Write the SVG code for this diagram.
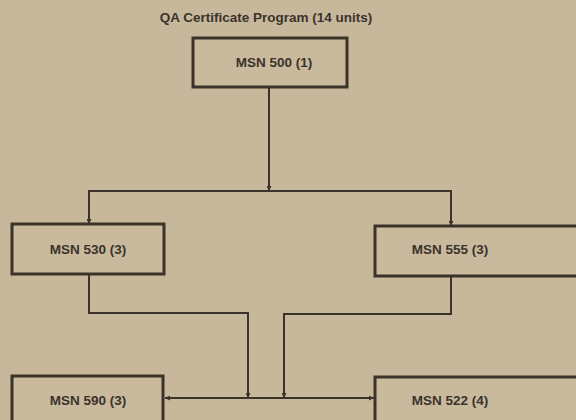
<svg xmlns="http://www.w3.org/2000/svg" width="576" height="420" viewBox="0 0 576 420">
<style>
.bg{fill:#c8b89b}
.box{fill:#c9b99d;stroke:#3b3329;stroke-width:3}
.lbl{font-family:"Liberation Sans",Arial,sans-serif;font-weight:bold;font-size:13.5px;fill:#3a332b;text-anchor:middle}
.ttl{font-family:"Liberation Sans",Arial,sans-serif;font-weight:bold;font-size:13.5px;fill:#3a332b;text-anchor:middle}
.con{fill:none;stroke:#3b3329;stroke-width:2}
</style>
<defs>
<marker id="ah" viewBox="0 0 6 6" refX="6" refY="3" markerWidth="2.5" markerHeight="2.5" orient="auto" markerUnits="strokeWidth">
<path d="M0,0 L6,3 L0,6 z" fill="#3b3329"/>
</marker>
</defs>
<rect class="bg" x="0" y="0" width="576" height="420"/>
<text class="ttl" x="266" y="22">QA Certificate Program (14 units)</text>
<g id="connectors">
<path class="con" d="M269,87 V191" marker-end="url(#ah)"/>
<path class="con" d="M89,224 V191 H451 V226" marker-end="url(#ah)"/>
<path class="con" d="M89,191 V224" marker-end="url(#ah)"/>
<path class="con" d="M89,274 V313 H248 V398" marker-end="url(#ah)"/>
<path class="con" d="M451,276 V314 H284 V398" marker-end="url(#ah)"/>
<path class="con" d="M266,398 H165" marker-end="url(#ah)"/>
<path class="con" d="M266,398 H374" marker-end="url(#ah)"/>
</g>
<g id="msn500">
<rect class="box" x="193" y="38" width="154" height="49"/>
<text class="lbl" x="274" y="67">MSN 500 (1)</text>
</g>
<g id="msn530">
<rect class="box" x="12" y="224" width="152" height="50"/>
<text class="lbl" x="88" y="254">MSN 530 (3)</text>
</g>
<g id="msn555">
<rect class="box" x="375" y="226" width="220" height="50"/>
<text class="lbl" x="450" y="254">MSN 555 (3)</text>
</g>
<g id="msn590">
<rect class="box" x="12" y="376" width="151" height="60"/>
<text class="lbl" x="88" y="405">MSN 590 (3)</text>
</g>
<g id="msn522">
<rect class="box" x="375" y="377" width="220" height="60"/>
<text class="lbl" x="450" y="405">MSN 522 (4)</text>
</g>
</svg>
